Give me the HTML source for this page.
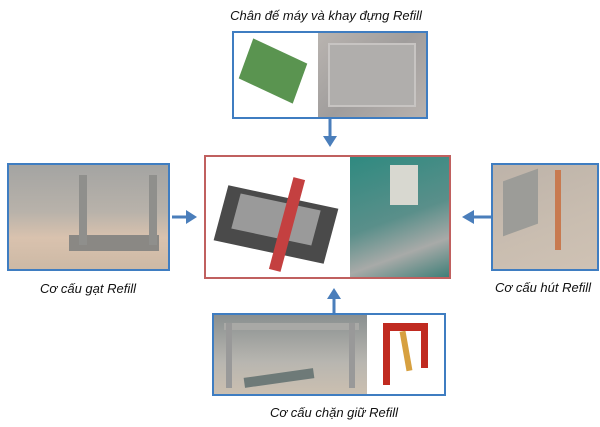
<!DOCTYPE html>
<html><head><meta charset="utf-8"><style>
body{margin:0;width:600px;height:427px;background:#fff;position:relative;overflow:hidden;font-family:"Liberation Sans",sans-serif}
.b{position:absolute;box-sizing:border-box;border:2px solid #3f7dc1;overflow:hidden}
.r{border-color:#c0605f}
.p{position:absolute;top:0;bottom:0}
.l{position:absolute;font-style:italic;font-size:13px;color:#111;white-space:nowrap;transform:translateX(-50%)}
</style></head><body>
<div class="l" style="left:326px;top:8px">Chân đế máy và khay đựng Refill</div>
<div class="b" style="left:232px;top:31px;width:196px;height:88px">
 <div class="p" style="left:0;width:82px;background:#fff">
  <div style="position:absolute;left:12px;top:18px;width:54px;height:40px;background:#5a9450;transform:skew(-20deg,25deg)"></div>
 </div>
 <div class="p" style="left:84px;right:0;background:linear-gradient(135deg,#b9b4b0,#a09d9c 50%,#b8b2ae)">
  <div style="position:absolute;left:10px;top:10px;right:10px;bottom:10px;border:2px solid #c7c4c2;background:#b0aeac"></div>
 </div>
</div>
<div class="b" style="left:7px;top:163px;width:163px;height:108px;background:linear-gradient(180deg,#a4a4a2 0%,#b8b2aa 45%,#d9c2ae 70%,#cdb9a5 100%)">
 <div style="position:absolute;left:60px;top:70px;width:90px;height:16px;background:#8a8884"></div>
 <div style="position:absolute;left:70px;top:10px;width:8px;height:70px;background:#8f8f8c"></div>
 <div style="position:absolute;left:140px;top:10px;width:8px;height:70px;background:#8f8f8c"></div>
</div>
<div class="b r" style="left:204px;top:155px;width:247px;height:124px">
 <div class="p" style="left:0;width:142px;background:#fff">
  <div style="position:absolute;left:15px;top:40px;width:110px;height:55px;background:#4a4a4a;transform:skew(-15deg,12deg)"></div>
  <div style="position:absolute;left:30px;top:45px;width:80px;height:35px;background:#9a9a9a;transform:skew(-15deg,12deg)"></div>
  <div style="position:absolute;left:75px;top:20px;width:12px;height:95px;background:#c44040;transform:rotate(15deg)"></div>
 </div>
 <div class="p" style="left:144px;right:0;background:linear-gradient(160deg,#2f8a80,#5a8f8a 50%,#a8aaa8 75%,#3f7f78)">
  <div style="position:absolute;left:40px;top:8px;width:28px;height:40px;background:#d8d8d0"></div>
 </div>
</div>
<div class="b" style="left:491px;top:163px;width:108px;height:108px;background:linear-gradient(160deg,#bdb3a9,#c9bdb0 60%,#cfc2b4)">
 <div style="position:absolute;left:10px;top:10px;width:35px;height:55px;background:#9c9c98;transform:skew(0,-20deg)"></div>
 <div style="position:absolute;left:62px;top:5px;width:6px;height:80px;background:#c87a50"></div>
</div>
<div class="l" style="left:88px;top:281px">Cơ cấu gạt Refill</div>
<div class="l" style="left:543px;top:280px">Cơ cấu hút Refill</div>
<div class="b" style="left:212px;top:313px;width:234px;height:83px">
 <div class="p" style="left:0;width:153px;background:linear-gradient(180deg,#8a9090,#b8b6b0 60%,#cbbfb0)">
  <div style="position:absolute;left:10px;top:8px;width:135px;height:7px;background:#a9a9a6"></div>
  <div style="position:absolute;left:12px;top:8px;width:6px;height:65px;background:#999"></div>
  <div style="position:absolute;left:135px;top:8px;width:6px;height:65px;background:#999"></div>
  <div style="position:absolute;left:30px;top:58px;width:70px;height:10px;background:#6e7a78;transform:rotate(-8deg)"></div>
 </div>
 <div class="p" style="left:155px;right:0;background:#fff">
  <div style="position:absolute;left:14px;top:8px;width:44px;height:8px;background:#c02a20"></div>
  <div style="position:absolute;left:14px;top:8px;width:7px;height:62px;background:#c02a20"></div>
  <div style="position:absolute;left:52px;top:8px;width:7px;height:45px;background:#c02a20"></div>
  <div style="position:absolute;left:34px;top:16px;width:6px;height:40px;background:#d7a040;transform:rotate(-10deg)"></div>
 </div>
</div>
<div class="l" style="left:334px;top:405px">Cơ cấu chặn giữ Refill</div>
<svg width="600" height="427" style="position:absolute;left:0;top:0" fill="#4a7ebb" stroke="#4a7ebb">
 <line x1="330" y1="119" x2="330" y2="138" stroke-width="3"/><polygon points="323,136 337,136 330,147" stroke="none"/>
 <line x1="172" y1="217" x2="188" y2="217" stroke-width="3"/><polygon points="186,210 186,224 197,217" stroke="none"/>
 <line x1="491" y1="217" x2="472" y2="217" stroke-width="3"/><polygon points="474,210 474,224 462,217" stroke="none"/>
 <line x1="334" y1="313" x2="334" y2="297" stroke-width="3"/><polygon points="327,299 341,299 334,288" stroke="none"/>
</svg>
</body></html>
